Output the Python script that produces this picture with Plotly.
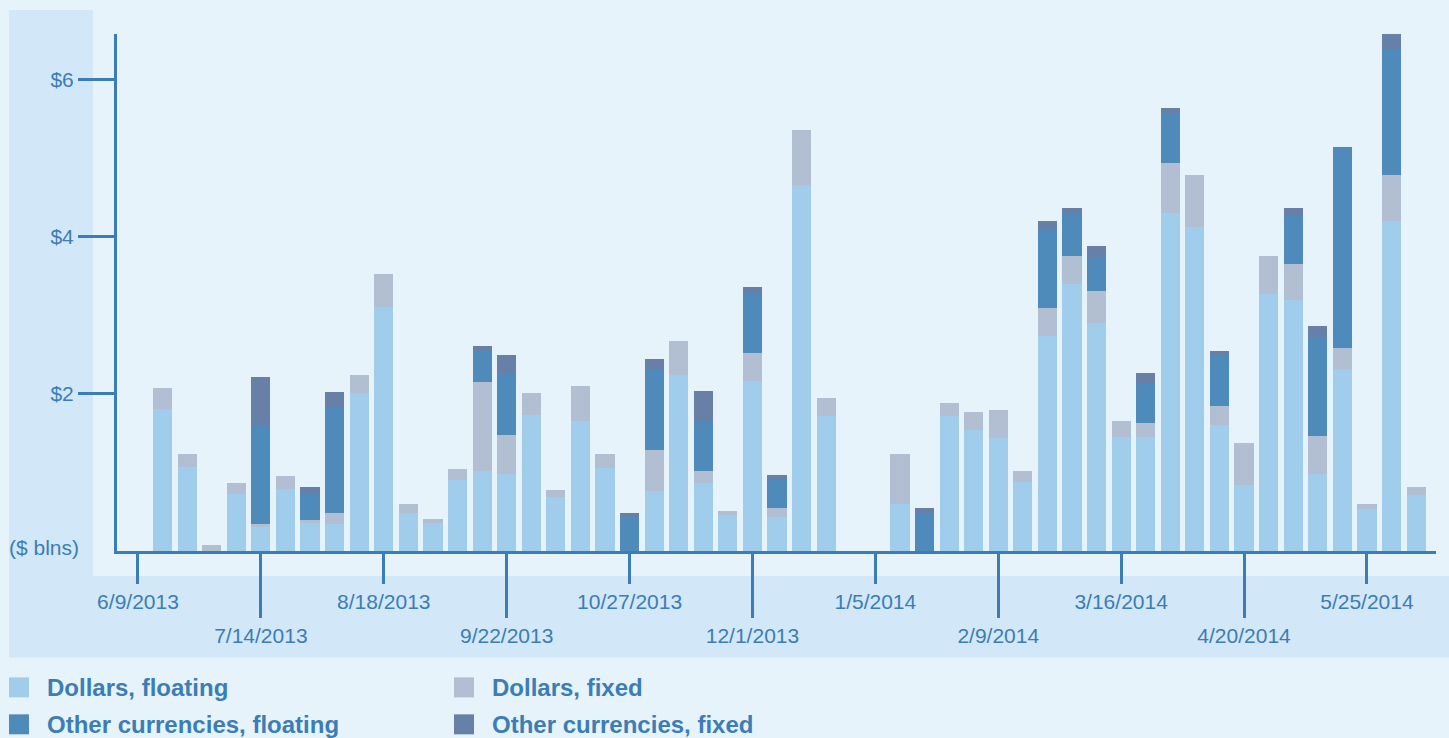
import datetime as dt
import plotly.graph_objects as go

# ---------------- data ----------------
weeks = [
    "2013-06-09", "2013-06-16", "2013-06-23", "2013-06-30", "2013-07-07", "2013-07-14",
    "2013-07-21", "2013-07-28", "2013-08-04", "2013-08-11", "2013-08-18", "2013-08-25",
    "2013-09-01", "2013-09-08", "2013-09-15", "2013-09-22", "2013-09-29", "2013-10-06",
    "2013-10-13", "2013-10-20", "2013-10-27", "2013-11-03", "2013-11-10", "2013-11-17",
    "2013-11-24", "2013-12-01", "2013-12-08", "2013-12-15", "2013-12-22", "2013-12-29",
    "2014-01-05", "2014-01-12", "2014-01-19", "2014-01-26", "2014-02-02", "2014-02-09",
    "2014-02-16", "2014-02-23", "2014-03-02", "2014-03-09", "2014-03-16", "2014-03-23",
    "2014-03-30", "2014-04-06", "2014-04-13", "2014-04-20", "2014-04-27", "2014-05-04",
    "2014-05-11", "2014-05-18", "2014-05-25", "2014-06-01", "2014-06-08",
]

dollars_floating = [
    0.00, 1.81, 1.07, 0.00, 0.73, 0.31, 0.79, 0.36, 0.35, 2.01, 3.10, 0.49, 0.36, 0.90,
    1.02, 0.98, 1.73, 0.69, 1.66, 1.06, 0.00, 0.76, 2.24, 0.86, 0.46, 2.17, 0.43, 4.66,
    1.72, 0.00, 0.00, 0.60, 0.00, 1.72, 1.54, 1.44, 0.88, 2.74, 3.40, 2.90, 1.45, 1.45,
    4.30, 4.12, 1.61, 0.84, 3.27, 3.20, 0.98, 2.32, 0.54, 4.20, 0.71,
]
dollars_fixed = [
    0.00, 0.27, 0.16, 0.08, 0.14, 0.04, 0.16, 0.04, 0.14, 0.23, 0.43, 0.11, 0.05, 0.15,
    1.13, 0.50, 0.28, 0.09, 0.44, 0.18, 0.00, 0.52, 0.43, 0.16, 0.05, 0.35, 0.12, 0.70,
    0.23, 0.00, 0.00, 0.63, 0.00, 0.17, 0.23, 0.35, 0.14, 0.35, 0.36, 0.41, 0.20, 0.18,
    0.64, 0.66, 0.23, 0.53, 0.48, 0.45, 0.49, 0.27, 0.06, 0.59, 0.11,
]
other_floating = [
    0.00, 0.00, 0.00, 0.00, 0.00, 1.24, 0.00, 0.33, 1.34, 0.00, 0.00, 0.00, 0.00, 0.00,
    0.39, 0.78, 0.00, 0.00, 0.00, 0.00, 0.43, 1.03, 0.00, 0.64, 0.00, 0.75, 0.35, 0.00,
    0.00, 0.00, 0.00, 0.00, 0.49, 0.00, 0.00, 0.00, 0.00, 0.99, 0.54, 0.43, 0.00, 0.50,
    0.63, 0.00, 0.64, 0.00, 0.00, 0.61, 1.25, 2.55, 0.00, 1.59, 0.00,
]
other_fixed = [
    0.00, 0.00, 0.00, 0.00, 0.00, 0.63, 0.00, 0.09, 0.20, 0.00, 0.00, 0.00, 0.00, 0.00,
    0.07, 0.24, 0.00, 0.00, 0.00, 0.00, 0.05, 0.14, 0.00, 0.38, 0.00, 0.09, 0.07, 0.00,
    0.00, 0.00, 0.00, 0.00, 0.06, 0.00, 0.00, 0.00, 0.00, 0.12, 0.06, 0.14, 0.00, 0.13,
    0.07, 0.00, 0.07, 0.00, 0.00, 0.10, 0.14, 0.00, 0.00, 0.20, 0.00,
]

series_names = ["Dollars, floating", "Dollars, fixed",
                "Other currencies, floating", "Other currencies, fixed"]
series_values = [dollars_floating, dollars_fixed, other_floating, other_fixed]

tick_dates = ["2013-06-09", "2013-07-14", "2013-08-18", "2013-09-22", "2013-10-27",
              "2013-12-01", "2014-01-05", "2014-02-09", "2014-03-16", "2014-04-20",
              "2014-05-25"]
tick_labels = ["6/9/2013", "7/14/2013", "8/18/2013", "9/22/2013", "10/27/2013",
               "12/1/2013", "1/5/2014", "2/9/2014", "3/16/2014", "4/20/2014",
               "5/25/2014"]
y_tickvals = [2, 4, 6]
y_ticktext = ["$2", "$4", "$6"]

# ---------------- styling ----------------
colors = ["#a0cdec", "#b2bfd3", "#4e8bbb", "#6680a8"]
BG = "#e6f3fb"
PANEL = "#d2e7f7"
INK = "#3b7db5"
FONT = "Liberation Sans, Arial, sans-serif"

W, H = 1449, 738
ML, MR, MT, MB = 117, 13, 34, 186.5
PW = W - ML - MR
PH = H - MT - MB


def pxx(p):
    return (p - ML) / PW


def pxy(p):
    return (H - MB - p) / PH


start = dt.datetime(2013, 6, 9)
week = dt.timedelta(days=7)
x_range = [start - week * 0.854, start + week * 52.81]

fig = go.Figure()
for name, vals, col in zip(series_names, series_values, colors):
    fig.add_trace(go.Bar(
        x=weeks, y=vals, name=name, marker=dict(color=col, line=dict(width=0)),
        showlegend=False, hoverinfo="skip",
    ))

axis_common = dict(
    type="date", range=x_range, showgrid=False, zeroline=False,
    ticks="outside", tickwidth=3, tickcolor=INK,
    tickfont=dict(family=FONT, size=21, color=INK),
    tickmode="array",
)

fig.update_layout(
    width=W, height=H,
    margin=dict(l=ML, r=MR, t=MT, b=MB, pad=0),
    paper_bgcolor=BG, plot_bgcolor=BG,
    barmode="stack", bargap=0.22,
    showlegend=False,
    xaxis=dict(
        **axis_common,
        tickvals=tick_dates[0::2], ticktext=tick_labels[0::2], ticklen=30,
        showline=True, linewidth=3, linecolor=INK,
    ),
    xaxis2=dict(
        **axis_common,
        tickvals=tick_dates[1::2], ticktext=tick_labels[1::2], ticklen=66,
        overlaying="x", anchor="y", side="bottom", showline=False,
    ),
    yaxis=dict(
        range=[0, 6.58], showgrid=False, zeroline=False,
        tickmode="array", tickvals=y_tickvals, ticktext=y_ticktext,
        ticks="outside", ticklen=36, tickwidth=3, tickcolor=INK,
        tickfont=dict(family=FONT, size=21, color=INK),
        showline=True, linewidth=3, linecolor=INK,
    ),
)

# invisible trace to make xaxis2 render
fig.add_trace(go.Scatter(x=[weeks[0]], y=[0], xaxis="x2", yaxis="y",
                         mode="markers", marker=dict(opacity=0),
                         showlegend=False, hoverinfo="skip"))

# background panels (L-shaped darker frame)
fig.add_shape(type="rect", xref="paper", yref="paper", layer="below",
              x0=pxx(9), x1=pxx(93), y0=pxy(658), y1=pxy(10),
              fillcolor=PANEL, line=dict(width=0))
fig.add_shape(type="rect", xref="paper", yref="paper", layer="below",
              x0=pxx(93), x1=pxx(W), y0=pxy(658), y1=pxy(576.5),
              fillcolor=PANEL, line=dict(width=0))

# unit label
fig.add_annotation(text="($ blns)", xref="paper", yref="paper",
                   x=pxx(7), y=pxy(548), xanchor="left", yanchor="middle",
                   showarrow=False, font=dict(family=FONT, size=21, color=INK))

# legend (two columns, two rows)
legend_cols = [9, 454]
legend_rows = [688, 725]
for i, (name, col) in enumerate(zip(series_names, colors)):
    cx = legend_cols[i % 2]
    cy = legend_rows[i // 2]
    fig.add_shape(type="rect", xref="paper", yref="paper",
                  x0=pxx(cx), x1=pxx(cx + 20), y0=pxy(cy + 10), y1=pxy(cy - 10),
                  fillcolor=col, line=dict(width=0))
    fig.add_annotation(text="<b>%s</b>" % name, xref="paper", yref="paper",
                       x=pxx(cx + 36), y=pxy(cy), xanchor="left", yanchor="middle",
                       showarrow=False, font=dict(family=FONT, size=24, color=INK))

fig.write_html("out.html",
               config={"displayModeBar": False, "staticPlot": True},
               post_script="document.body.style.margin='0';"
                           "document.body.style.overflow='hidden';")
